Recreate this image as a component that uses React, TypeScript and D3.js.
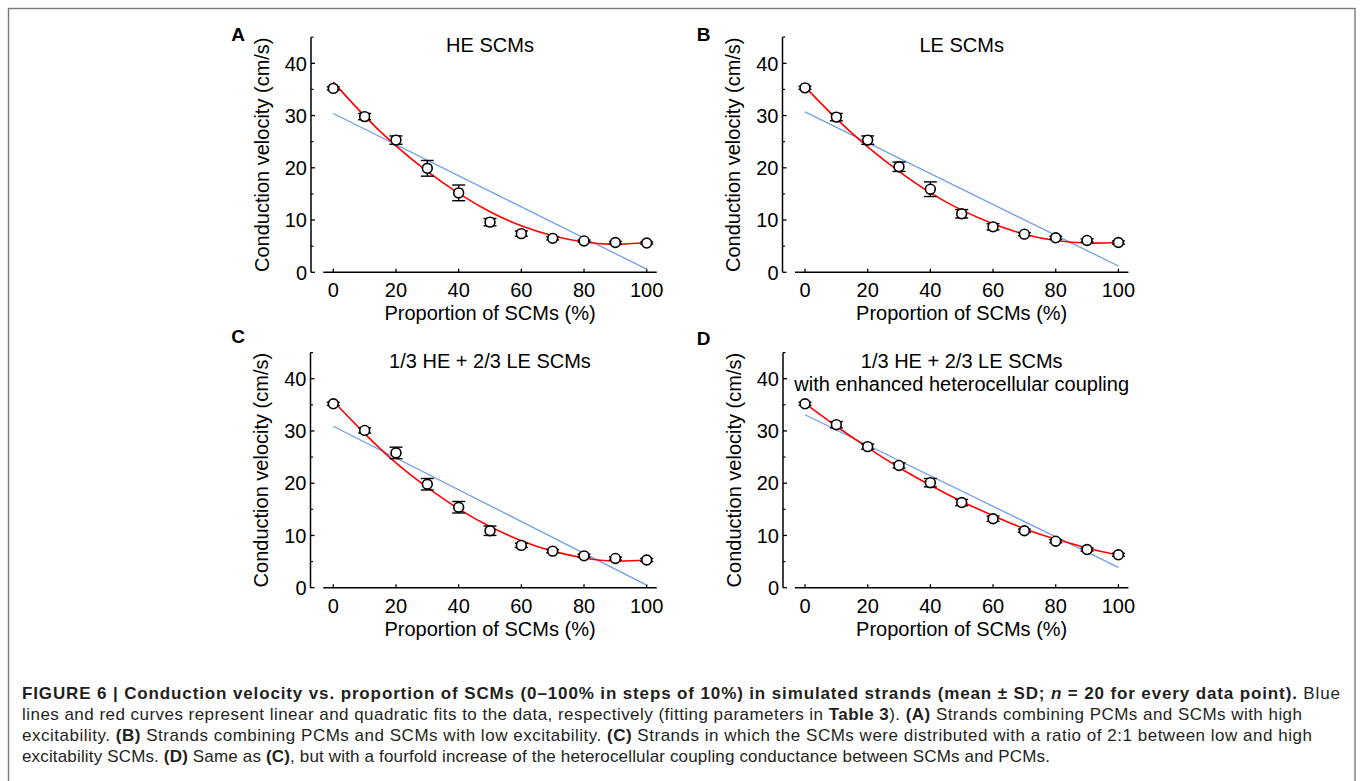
import React from 'react';
import * as d3 from 'd3';

// x values shared by every panel (% of SCMs)
const proportions = [0, 10, 20, 30, 40, 50, 60, 70, 80, 90, 100];
const xTicks = [0, 20, 40, 60, 80, 100];
const yTicks = [0, 10, 20, 30, 40];
const yMinorTicks = [5, 15, 25, 35, 45];

// A: HE SCMs
const heMean = [35.2, 29.8, 25.3, 19.9, 15.2, 9.6, 7.4, 6.5, 6.0, 5.7, 5.6];
const heSd = [0.3, 0.6, 0.8, 1.5, 1.5, 0.7, 0.5, 0.3, 0.2, 0.2, 0.2];
const heLinear = [30.4, 0.6]; // blue fit read at 0% and 100%
const heQuadratic = [36.4, 29.9, 24.2, 19.3, 15.1, 11.6, 8.9, 7.0, 5.8, 5.35, 5.7];

// B: LE SCMs
const leMean = [35.3, 29.7, 25.3, 20.2, 15.9, 11.2, 8.7, 7.3, 6.6, 6.1, 5.7];
const leSd = [0.3, 0.7, 0.8, 0.9, 1.4, 0.8, 0.6, 0.3, 0.3, 0.3, 0.3];
const leLinear = [30.7, 1.2];
const leQuadratic = [35.5, 29.4, 24.0, 19.3, 15.2, 11.9, 9.3, 7.3, 6.1, 5.6, 5.7];

// C: 1/3 HE + 2/3 LE
const mixMean = [35.2, 30.1, 25.8, 19.8, 15.4, 10.9, 8.1, 7.0, 6.1, 5.6, 5.3];
const mixSd = [0.3, 0.5, 1.1, 1.1, 1.1, 0.9, 0.4, 0.3, 0.3, 0.3, 0.3];
const mixLinear = [30.9, 0.5];
const mixQuadratic = [35.7, 29.5, 23.9, 19.2, 15.1, 11.7, 9.0, 7.0, 5.7, 5.1, 5.3];

// D: 1/3 HE + 2/3 LE, enhanced heterocellular coupling
const coupledMean = [35.2, 31.2, 27.0, 23.4, 20.1, 16.3, 13.2, 10.9, 8.9, 7.3, 6.3];
const coupledSd = [0.3, 0.6, 0.5, 0.5, 0.8, 0.6, 0.5, 0.3, 0.3, 0.3, 0.3];
const coupledLinear = [33.1, 3.9];
const coupledQuadratic = [35.3, 30.9, 26.8, 23.0, 19.6, 16.5, 13.8, 11.3, 9.3, 7.6, 6.2];

const FONT = 'Liberation Sans, Arial, Helvetica, sans-serif';

const panels = [
  { letter: 'A', lx: 238, ly: 41, title: ['HE SCMs'], mean: heMean, sd: heSd, linear: heLinear, quad: heQuadratic, x0: 333.3, y0: 272.3, axisX: 311 },
  { letter: 'B', lx: 703.7, ly: 41, title: ['LE SCMs'], mean: leMean, sd: leSd, linear: leLinear, quad: leQuadratic, x0: 805, y0: 272.3, axisX: 782.5 },
  { letter: 'C', lx: 238, ly: 342.5, title: ['1/3 HE + 2/3 LE SCMs'], mean: mixMean, sd: mixSd, linear: mixLinear, quad: mixQuadratic, x0: 333.3, y0: 587.7, axisX: 310.5 },
  { letter: 'D', lx: 703.7, ly: 344.5, title: ['1/3 HE + 2/3 LE SCMs', 'with enhanced heterocellular coupling'], mean: coupledMean, sd: coupledSd, linear: coupledLinear, quad: coupledQuadratic, x0: 805, y0: 587.7, axisX: 783 },
];

function Panel({ p }) {
  const x = d3.scaleLinear().domain([0, 100]).range([p.x0, p.x0 + 313.4]);
  const y = d3.scaleLinear().domain([0, 40]).range([p.y0, p.y0 - 209]);

  const quadLine = d3.line<number>()
    .x((_, i) => x(proportions[i]))
    .y((d) => y(d))
    .curve(d3.curveNatural);

  return (
    <g fontFamily={FONT} fill="#000">
      <text x={p.lx} y={p.ly} fontSize={19} fontWeight="bold" textAnchor="middle">{p.letter}</text>

      {/* y axis */}
      <line x1={p.axisX} x2={p.axisX} y1={y(0)} y2={y(45)} stroke="#000" strokeWidth={1.5} />
      {yTicks.map((t) => (
        <g key={`y${t}`}>
          <line x1={p.axisX} x2={p.axisX + 4} y1={y(t)} y2={y(t)} stroke="#000" strokeWidth={1.3} />
          <text x={p.axisX - 4} y={y(t)} dy="0.36em" fontSize={20} textAnchor="end">{t}</text>
        </g>
      ))}
      {yMinorTicks.map((t) => (
        <line key={`ym${t}`} x1={p.axisX} x2={p.axisX + 2.5} y1={y(t)} y2={y(t)} stroke="#000" strokeWidth={1.2} />
      ))}
      <text
        transform={`translate(${p.axisX - 49.5},${y(22.5)}) rotate(-90)`}
        fontSize={20}
        textAnchor="middle"
        dy="0.35em"
      >
        Conduction velocity (cm/s)
      </text>

      {/* x axis */}
      <line x1={x(-3.2)} x2={x(103.2)} y1={y(0)} y2={y(0)} stroke="#000" strokeWidth={1.5} />
      {xTicks.map((t) => (
        <g key={`x${t}`}>
          <line x1={x(t)} x2={x(t)} y1={y(0)} y2={y(0) - 3.5} stroke="#000" strokeWidth={1.3} />
          <text x={x(t)} y={y(0) + 25} fontSize={20} textAnchor="middle">{t}</text>
        </g>
      ))}
      <text x={x(50)} y={y(0) + 48} fontSize={20} textAnchor="middle">Proportion of SCMs (%)</text>

      {/* title */}
      {p.title.map((t, i) => (
        <text key={t} x={x(50)} y={y(45) + 15 + i * 23.5} fontSize={20} textAnchor="middle">{t}</text>
      ))}

      {/* fits */}
      <line
        x1={x(0)} x2={x(100)} y1={y(p.linear[0])} y2={y(p.linear[1])}
        stroke="#6f9ef0" strokeWidth={1.3}
      />
      <path d={quadLine(p.quad)} fill="none" stroke="#ff0000" strokeWidth={1.6} />

      {/* data points with SD */}
      {p.mean.map((m, i) => {
        const cx = x(proportions[i]);
        const lo = y(m - p.sd[i]);
        const hi = y(m + p.sd[i]);
        return (
          <g key={`pt${i}`}>
            <line x1={cx} x2={cx} y1={lo} y2={hi} stroke="#000" strokeWidth={1.4} />
            <line x1={cx - 6.5} x2={cx + 6.5} y1={lo} y2={lo} stroke="#000" strokeWidth={1.4} />
            <line x1={cx - 6.5} x2={cx + 6.5} y1={hi} y2={hi} stroke="#000" strokeWidth={1.4} />
            <circle cx={cx} cy={y(m)} r={4.9} fill="#fff" stroke="#000" strokeWidth={1.6} />
          </g>
        );
      })}
    </g>
  );
}

export default function App() {
  const capColor = '#231f20';
  return (
    <div style={{ position: 'absolute', left: 0, top: 0 }}>
      <svg width={1360} height={781} xmlns="http://www.w3.org/2000/svg" style={{ display: 'block', background: '#fff' }}>
        <rect x={8.5} y={8.5} width={1346.5} height={800} fill="none" stroke="#7a7a7a" strokeWidth={1.4} />
        {panels.map((p) => <Panel key={p.letter} p={p} />)}

        <g fontFamily={FONT} fontSize={17} fill={capColor}>
          <text x={22} y={699} textLength={1318} lengthAdjust="spacing">
            <tspan fontWeight="bold">FIGURE 6 | Conduction velocity vs. proportion of SCMs (0–100% in steps of 10%) in simulated strands (mean ± SD; </tspan>
            <tspan fontWeight="bold" fontStyle="italic">n</tspan>
            <tspan fontWeight="bold"> = 20 for every data point).</tspan>
            <tspan> Blue</tspan>
          </text>
          <text x={22} y={720} textLength={1280} lengthAdjust="spacing">
            <tspan>lines and red curves represent linear and quadratic fits to the data, respectively (fitting parameters in </tspan>
            <tspan fontWeight="bold">Table 3</tspan>
            <tspan>). </tspan>
            <tspan fontWeight="bold">(A)</tspan>
            <tspan> Strands combining PCMs and SCMs with high</tspan>
          </text>
          <text x={22} y={741} textLength={1290} lengthAdjust="spacing">
            <tspan>excitability. </tspan>
            <tspan fontWeight="bold">(B)</tspan>
            <tspan> Strands combining PCMs and SCMs with low excitability. </tspan>
            <tspan fontWeight="bold">(C)</tspan>
            <tspan> Strands in which the SCMs were distributed with a ratio of 2:1 between low and high</tspan>
          </text>
          <text x={22} y={762} textLength={1028} lengthAdjust="spacing">
            <tspan>excitability SCMs. </tspan>
            <tspan fontWeight="bold">(D)</tspan>
            <tspan> Same as </tspan>
            <tspan fontWeight="bold">(C)</tspan>
            <tspan>, but with a fourfold increase of the heterocellular coupling conductance between SCMs and PCMs.</tspan>
          </text>
        </g>
      </svg>
    </div>
  );
}
